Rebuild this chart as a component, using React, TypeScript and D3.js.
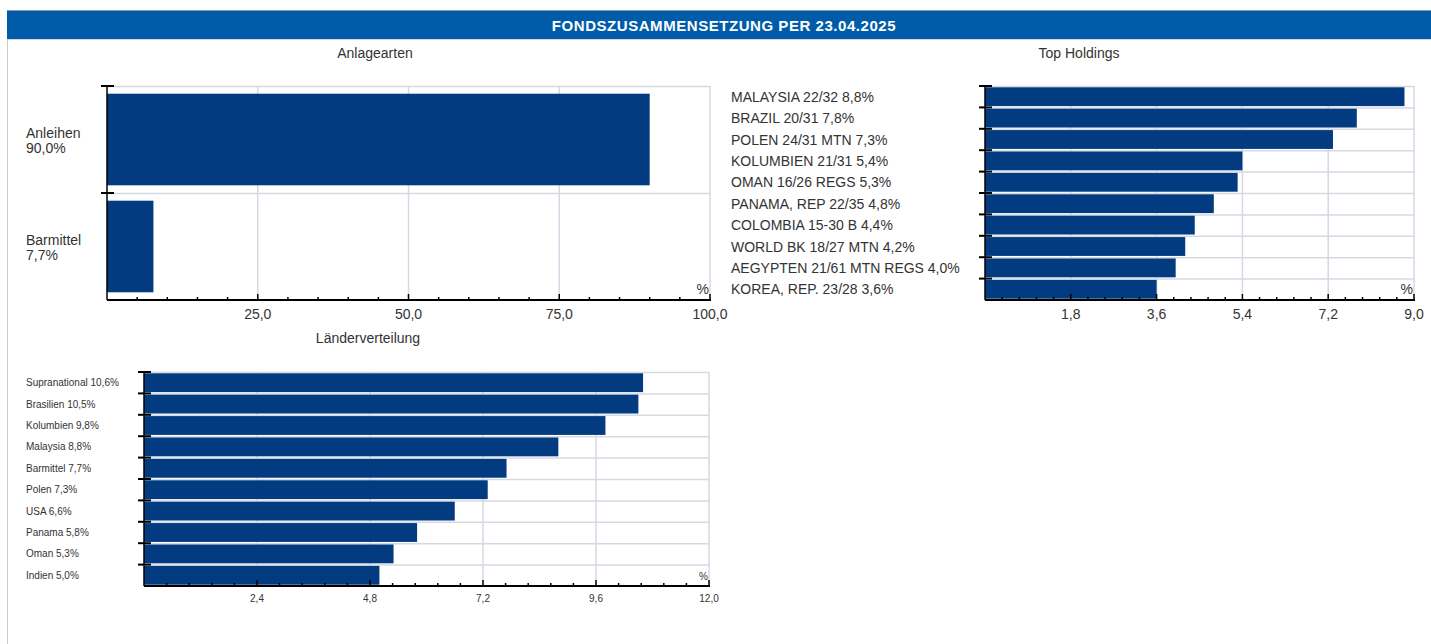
import React, { useRef, useEffect } from 'react';
import * as d3 from 'd3';

const title = 'FONDSZUSAMMENSETZUNG PER 23.04.2025';

const assetNames = ['Anleihen', 'Barmittel'];
const assetValues = [90.0, 7.7];
const assetTicks = [25, 50, 75, 100];

const holdingNames = [
  'MALAYSIA 22/32',
  'BRAZIL 20/31',
  'POLEN 24/31 MTN',
  'KOLUMBIEN 21/31',
  'OMAN 16/26 REGS',
  'PANAMA, REP 22/35',
  'COLOMBIA 15-30 B',
  'WORLD BK 18/27 MTN',
  'AEGYPTEN 21/61 MTN REGS',
  'KOREA, REP. 23/28',
];
const holdingValues = [8.8, 7.8, 7.3, 5.4, 5.3, 4.8, 4.4, 4.2, 4.0, 3.6];
const holdingTicks = [1.8, 3.6, 5.4, 7.2, 9.0];

const countryNames = [
  'Supranational',
  'Brasilien',
  'Kolumbien',
  'Malaysia',
  'Barmittel',
  'Polen',
  'USA',
  'Panama',
  'Oman',
  'Indien',
];
const countryValues = [10.6, 10.5, 9.8, 8.8, 7.7, 7.3, 6.6, 5.8, 5.3, 5.0];
const countryTicks = [2.4, 4.8, 7.2, 9.6, 12.0];

const fmt = (v: number) => v.toFixed(1).replace('.', ',');
const BAR = '#023b80';
const GRID = '#d5d9e3';
const TEXT = '#333';
const FONT = 'Liberation Sans, Arial, sans-serif';

type ChartOpts = {
  names: string[];
  values: number[];
  ticks: number[];
  x0: number;
  x1: number;
  y0: number;
  y1: number;
  inset: number; // fraction of slot left empty around each bar
  minorPerMajor: number;
  tickFont: number;
  tickY: number;
};

function drawChart(g: d3.Selection<SVGGElement, unknown, null, undefined>, o: ChartOpts) {
  const max = o.ticks[o.ticks.length - 1];
  const x = d3.scaleLinear().domain([0, max]).range([o.x0, o.x1]);
  const y = d3.scaleBand<string>().domain(o.names).range([o.y0, o.y1]).paddingInner(0).paddingOuter(0);
  const step = y.step();

  // horizontal grid at band tops
  g.selectAll('.hgrid')
    .data(o.names)
    .join('line')
    .attr('x1', o.x0)
    .attr('x2', o.x1)
    .attr('y1', (d) => y(d)! + 0.5)
    .attr('y2', (d) => y(d)! + 0.5)
    .attr('stroke', GRID)
    .attr('stroke-width', 1.5);

  // vertical grid
  g.selectAll('.vgrid')
    .data(o.ticks)
    .join('line')
    .attr('x1', (d) => x(d))
    .attr('x2', (d) => x(d))
    .attr('y1', o.y0)
    .attr('y2', o.y1)
    .attr('stroke', GRID)
    .attr('stroke-width', 1.5);

  // bars
  g.selectAll('.bar')
    .data(o.values)
    .join('rect')
    .attr('x', o.x0)
    .attr('y', (d, i) => y(o.names[i])! + step * o.inset)
    .attr('width', (d) => x(d) - o.x0)
    .attr('height', step * (1 - 2 * o.inset))
    .attr('fill', BAR);

  // x axis
  g.append('line')
    .attr('x1', o.x0)
    .attr('x2', o.x1 + 1)
    .attr('y1', o.y1)
    .attr('y2', o.y1)
    .attr('stroke', '#000')
    .attr('stroke-width', 2);

  const minorStep = o.ticks[0] / o.minorPerMajor;
  const minor = d3.range(1, Math.round(max / minorStep) + 1).map((i) => i * minorStep);
  g.selectAll('.xtick')
    .data(minor)
    .join('line')
    .attr('x1', (d) => x(d))
    .attr('x2', (d) => x(d))
    .attr('y1', o.y1)
    .attr('y2', (d, i) => ((i + 1) % o.minorPerMajor === 0 ? o.y1 - 6 : o.y1 - 3))
    .attr('stroke', '#000')
    .attr('stroke-width', 1.5);

  g.selectAll('.xlabel')
    .data(o.ticks)
    .join('text')
    .attr('x', (d) => x(d))
    .attr('y', o.tickY)
    .attr('text-anchor', 'middle')
    .attr('dominant-baseline', 'central')
    .attr('font-size', o.tickFont)
    .attr('fill', TEXT)
    .text((d) => fmt(d));

  g.append('text')
    .attr('x', o.x1 - 1)
    .attr('y', o.y1 - 6)
    .attr('text-anchor', 'end')
    .attr('font-size', o.tickFont)
    .attr('fill', TEXT)
    .text('%');

  // y axis
  g.append('line')
    .attr('x1', o.x0)
    .attr('x2', o.x0)
    .attr('y1', o.y0)
    .attr('y2', o.y1)
    .attr('stroke', '#000')
    .attr('stroke-width', 1.5);

  g.selectAll('.ytick')
    .data(o.names)
    .join('line')
    .attr('x1', o.x0 - 6)
    .attr('x2', o.x0 + 7)
    .attr('y1', (d) => y(d)!)
    .attr('y2', (d) => y(d)!)
    .attr('stroke', '#000')
    .attr('stroke-width', 2);

  return y;
}

export default function App() {
  const svgRef = useRef<SVGSVGElement>(null);

  useEffect(() => {
    const svg = d3.select(svgRef.current);
    svg.selectAll('*').remove();

    // frame + header
    svg.append('line').attr('x1', 7.5).attr('x2', 7.5).attr('y1', 40).attr('y2', 644).attr('stroke', '#ccc');
    svg.append('rect').attr('x', 7).attr('y', 10).attr('width', 1424).attr('height', 1).attr('fill', '#7f9cbc');
    svg.append('rect').attr('x', 7).attr('y', 11).attr('width', 1424).attr('height', 28).attr('fill', '#005ca8');
    svg.append('rect').attr('x', 7).attr('y', 39).attr('width', 1424).attr('height', 1).attr('fill', '#cfd6e0');
    svg.append('text')
      .attr('x', 724)
      .attr('y', 25)
      .attr('text-anchor', 'middle')
      .attr('dominant-baseline', 'central')
      .attr('font-size', 15)
      .attr('font-weight', 'bold')
      .attr('letter-spacing', 0.55)
      .attr('fill', '#fff')
      .text(title);

    const titles = [
      { t: 'Anlagearten', x: 375, y: 53 },
      { t: 'Top Holdings', x: 1079, y: 53 },
      { t: 'Länderverteilung', x: 368, y: 338 },
    ];
    svg.selectAll('.ctitle')
      .data(titles)
      .join('text')
      .attr('x', (d) => d.x)
      .attr('y', (d) => d.y)
      .attr('text-anchor', 'middle')
      .attr('dominant-baseline', 'central')
      .attr('font-size', 14)
      .attr('fill', TEXT)
      .text((d) => d.t);

    // Anlagearten
    const g1 = svg.append('g');
    const y1 = drawChart(g1, {
      names: assetNames,
      values: assetValues,
      ticks: assetTicks,
      x0: 107,
      x1: 710,
      y0: 86,
      y1: 300,
      inset: 0.072,
      minorPerMajor: 5,
      tickFont: 14,
      tickY: 314,
    });
    assetNames.forEach((n, i) => {
      const cy = y1(n)! + y1.step() / 2;
      const t = g1.append('text').attr('font-size', 14).attr('fill', TEXT);
      t.append('tspan').attr('x', 26).attr('y', cy - 2).text(n);
      t.append('tspan').attr('x', 26).attr('y', cy + 13).text(fmt(assetValues[i]) + '%');
    });

    // Top Holdings
    const g2 = svg.append('g');
    const y2 = drawChart(g2, {
      names: holdingNames,
      values: holdingValues,
      ticks: holdingTicks,
      x0: 985,
      x1: 1414,
      y0: 86,
      y1: 300,
      inset: 0.06,
      minorPerMajor: 5,
      tickFont: 14,
      tickY: 314,
    });
    g2.selectAll('.hlabel')
      .data(holdingNames)
      .join('text')
      .attr('x', 731)
      .attr('y', (d) => y2(d)! + y2.step() / 2)
      .attr('dominant-baseline', 'central')
      .attr('font-size', 14)
      .attr('fill', TEXT)
      .text((d, i) => `${d} ${fmt(holdingValues[i])}%`);

    // Länderverteilung
    const g3 = svg.append('g');
    const y3 = drawChart(g3, {
      names: countryNames,
      values: countryValues,
      ticks: countryTicks,
      x0: 144,
      x1: 709,
      y0: 372,
      y1: 586,
      inset: 0.06,
      minorPerMajor: 5,
      tickFont: 10,
      tickY: 598,
    });
    g3.selectAll('.clabel')
      .data(countryNames)
      .join('text')
      .attr('x', 26)
      .attr('y', (d) => y3(d)! + y3.step() / 2)
      .attr('dominant-baseline', 'central')
      .attr('font-size', 10)
      .attr('fill', TEXT)
      .text((d, i) => `${d} ${fmt(countryValues[i])}%`);
  }, []);

  return (
    <svg
      ref={svgRef}
      width={1431}
      height={644}
      style={{ position: 'absolute', left: 0, top: 0, fontFamily: FONT, background: '#fff' }}
    />
  );
}
